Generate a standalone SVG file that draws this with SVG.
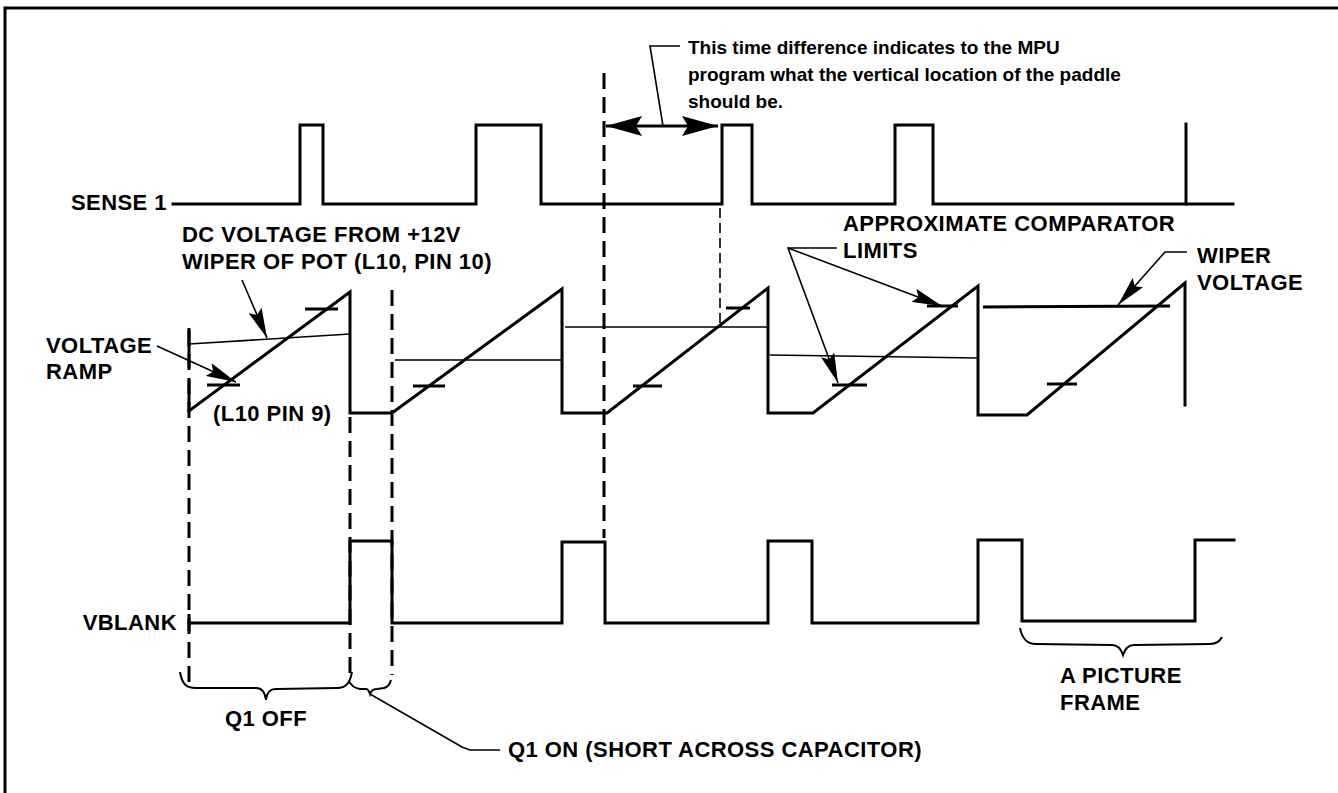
<svg xmlns="http://www.w3.org/2000/svg" width="1338" height="793" viewBox="0 0 1338 793">
<defs>
<style>
.sig{fill:none;stroke:#000;stroke-width:3;stroke-linejoin:miter;stroke-linecap:square}
.thin{fill:none;stroke:#000;stroke-width:1.6}
.tick{stroke:#000;stroke-width:3}
.dash{stroke:#000;stroke-width:3;stroke-dasharray:16 8;fill:none}
.tdash{stroke:#000;stroke-width:1.6;stroke-dasharray:10 5;fill:none}
.lead{fill:none;stroke:#000;stroke-width:1.6}
.brace{fill:none;stroke:#000;stroke-width:2}
.lbl{font-family:"Liberation Sans",Arial,sans-serif;font-weight:bold;font-size:22px;letter-spacing:0.45px;fill:#000}
.note{font-family:"Liberation Sans",Arial,sans-serif;font-weight:bold;font-size:19px;fill:#000}
</style>
<marker id="ah" viewBox="0 0 30 14" refX="30" refY="7" markerWidth="30" markerHeight="14" markerUnits="userSpaceOnUse" orient="auto">
<path d="M0,0 L30,7 L0,14 L5,7 z" fill="#000"/>
</marker>
<marker id="ahBig" viewBox="0 0 36 20" refX="36" refY="10" markerWidth="36" markerHeight="20" markerUnits="userSpaceOnUse" orient="auto-start-reverse">
<path d="M0,0 L36,10 L0,20 L6,10 z" fill="#000"/>
</marker>
</defs>
<rect width="1338" height="793" fill="#fff"/>
<path d="M5,793 V8 H1338" fill="none" stroke="#000" stroke-width="3"/>

<g id="guides">
<line class="dash" x1="189" y1="330" x2="189" y2="682"/>
<line class="tick" x1="189" y1="328" x2="189" y2="368"/>
<line class="tick" x1="189" y1="380" x2="189" y2="412"/>
<line class="tick" x1="189" y1="614" x2="189" y2="631"/>
<line class="dash" x1="350" y1="417" x2="350" y2="678"/>
<line class="dash" x1="392" y1="290" x2="392" y2="675"/>
<line class="dash" x1="604" y1="73" x2="604" y2="538"/>
<line class="tdash" x1="720" y1="208" x2="720" y2="325"/>
</g>

<g id="sense1">
<text class="lbl" x="167" y="210" text-anchor="end">SENSE 1</text>
<path class="sig" d="M173,204 H300 V125 H323 V204 H476 V125 H541 V204 H722 V125 H752 V204 H895 V125 H933 V204 H1233"/>
<line class="sig" x1="1186" y1="124" x2="1186" y2="204"/>
</g>

<g id="ramp">
<path class="sig" d="M189,411 L350,292 V413 H392 L562,289 V413 H607 L768,288 V413 H813 L978,286 V415 H1027 L1185,283 V405"/>
<g id="ticks">
<line class="tick" x1="305" y1="309" x2="338" y2="309"/>
<line class="tick" x1="207" y1="385" x2="240" y2="385"/>
<line class="tick" x1="413" y1="386" x2="445" y2="386"/>
<line class="tick" x1="633" y1="386" x2="662" y2="386"/>
<line class="tick" x1="726" y1="308" x2="750" y2="308"/>
<line class="tick" x1="832" y1="385" x2="867" y2="385"/>
<line class="tick" x1="927" y1="306" x2="958" y2="306"/>
<line class="tick" x1="1047" y1="384" x2="1077" y2="384"/>
</g>
<g id="wiper">
<line class="thin" x1="189" y1="344" x2="350" y2="334"/>
<line class="thin" x1="395" y1="360" x2="562" y2="360"/>
<line class="thin" x1="565" y1="327" x2="768" y2="327"/>
<line class="thin" x1="770" y1="355" x2="978" y2="358"/>
<line class="tick" x1="983" y1="307" x2="1170" y2="306"/>
</g>
</g>

<g id="vblank">
<text class="lbl" x="177" y="630" text-anchor="end">VBLANK</text>
<path class="sig" d="M189,623 H350 V541 H392 V623 H562 V542 H605 V623 H768 V541 H812 V623 H978 V540 H1022 V621 H1195 V540 H1234"/>
</g>

<g id="connectors">
<path class="lead" d="M680,46 H650 L663,126"/>
<line class="tick" x1="606" y1="126" x2="718" y2="126" marker-start="url(#ahBig)" marker-end="url(#ahBig)"/>
<line class="lead" stroke-width="2" x1="242" y1="280" x2="267" y2="338" marker-end="url(#ah)"/>
<line class="lead" stroke-width="2" x1="157" y1="346" x2="236" y2="382" marker-end="url(#ah)"/>
<path class="lead" d="M837,248 H788 L838,383" marker-end="url(#ah)"/>
<line class="lead" x1="788" y1="248" x2="942" y2="306" marker-end="url(#ah)"/>
<path class="lead" d="M1187,252 H1165 L1118,305" marker-end="url(#ah)"/>
<path class="lead" d="M370,694 L462,747 L470,750 H500"/>
</g>

<g id="braces">
<path class="brace" d="M180,672 C182,684 186,688 196,688 L256,688 C262,688 265,692 266,700 C267,692 270,689 276,689 L337,688 C346,688 350,683 352,672"/>
<path class="brace" d="M349,681 C351,686 354,688 360,689 L366,689 C368,689 369,691 370,694 C371,691 373,689 377,689 L384,688 C388,687 390,684 391,680"/>
<path class="brace" d="M1020,628 C1022,638 1026,644 1036,644 L1112,645 C1118,645 1121,649 1123,655 C1125,649 1128,645 1134,645 L1210,644 C1216,644 1220,641 1222,637"/>
</g>

<g id="labels">
<text class="note" x="688" y="54">This time difference indicates to the MPU</text>
<text class="note" x="688" y="81">program what the vertical location of the paddle</text>
<text class="note" x="688" y="108">should be.</text>
<text class="lbl" x="182" y="242">DC VOLTAGE FROM +12V</text>
<text class="lbl" x="182" y="269">WIPER OF POT (L10, PIN 10)</text>
<text class="lbl" x="46" y="353">VOLTAGE</text>
<text class="lbl" x="46" y="379">RAMP</text>
<text class="lbl" x="213" y="421">(L10 PIN 9)</text>
<text class="lbl" x="843" y="231">APPROXIMATE COMPARATOR</text>
<text class="lbl" x="843" y="258">LIMITS</text>
<text class="lbl" x="1197" y="263">WIPER</text>
<text class="lbl" x="1197" y="290">VOLTAGE</text>
<text class="lbl" x="225" y="726">Q1 OFF</text>
<text class="lbl" x="508" y="757">Q1 ON (SHORT ACROSS CAPACITOR)</text>
<text class="lbl" x="1060" y="683">A PICTURE</text>
<text class="lbl" x="1060" y="710">FRAME</text>
</g>
</svg>
